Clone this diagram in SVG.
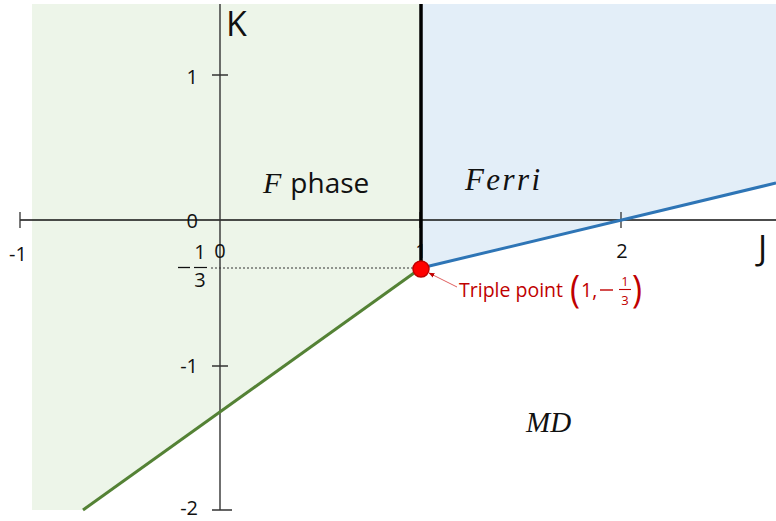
<svg xmlns="http://www.w3.org/2000/svg" width="776" height="521" viewBox="0 0 776 521">
<defs>
<style>
.tick{stroke:#333;stroke-width:1.3;fill:none}
.lbl{font-family:"Open Sans","Liberation Sans",sans-serif;font-size:20px;fill:#111}
.ax{font-family:"Open Sans","Liberation Sans",sans-serif;font-size:34px;fill:#111}
.math{font-family:"Liberation Serif","DejaVu Serif",serif;font-style:italic;fill:#111}
.red{font-family:"Open Sans","Liberation Sans",sans-serif;fill:#c00000}
</style>
<marker id="ah" viewBox="0 0 10 10" refX="9" refY="5" markerWidth="6" markerHeight="6" orient="auto">
<path d="M0,1 L10,5 L0,9 z" fill="#c00000"/>
</marker>
</defs>
<rect width="776" height="521" fill="#ffffff"/>
<g id="regions">
<polygon id="f-region" points="32,4 420,4 420,268 84,510 32,510" fill="#edf5e9"/>
<polygon id="ferri-region" points="420,4 776,4 776,183 420,268" fill="#e3eef8"/>
</g>
<g id="axes">
<line x1="20" y1="220" x2="776" y2="220" stroke="#111" stroke-width="1.4"/>
<line x1="220" y1="4" x2="220" y2="510" stroke="#333" stroke-width="1.4"/>
<path class="tick" d="M20,212 V228 M621,212 V228 M420,212 V228 M212,75 H228 M212,366 H228 M212,510 H232"/>
<text class="ax" x="226" y="36">K</text>
<text class="ax" x="758" y="260">J</text>
<text class="lbl" x="198" y="84" text-anchor="end">1</text>
<text class="lbl" x="198" y="228" text-anchor="end">0</text>
<text class="lbl" x="198" y="373" text-anchor="end">-1</text>
<text class="lbl" x="198" y="515" text-anchor="end">-2</text>
<text class="lbl" x="18" y="261" text-anchor="middle">-1</text>
<text class="lbl" x="220" y="258" text-anchor="middle">0</text>
<text class="lbl" x="421" y="258" text-anchor="middle">1</text>
<text class="lbl" x="622" y="258" text-anchor="middle">2</text>
<g id="frac-label">
<line x1="178" y1="267.5" x2="190" y2="267.5" stroke="#111" stroke-width="1.3"/>
<text class="lbl" x="200" y="259" text-anchor="middle">1</text>
<line x1="194" y1="267.5" x2="207" y2="267.5" stroke="#111" stroke-width="1.2"/>
<text class="lbl" x="200" y="287" text-anchor="middle">3</text>
</g>
</g>
<g id="connectors">
<line id="dotted" x1="211" y1="268" x2="413" y2="268" stroke="#333" stroke-width="1" stroke-dasharray="2,2"/>
<line id="f-ferri" x1="421" y1="4" x2="421" y2="268" stroke="#000" stroke-width="3.5"/>
<line id="f-md" x1="421" y1="268" x2="83" y2="510" stroke="#548235" stroke-width="3"/>
<line id="ferri-md" x1="421" y1="268" x2="776" y2="183" stroke="#2e75b6" stroke-width="3"/>
<line id="pointer" x1="457" y1="287" x2="429" y2="273" stroke="#e06060" stroke-width="1" marker-end="url(#ah)"/>
</g>
<g id="triple-point">
<circle cx="421" cy="269" r="8" fill="#ff0000" stroke="#c00000" stroke-width="1.5"/>
</g>
<g id="labels">
<text x="263" y="193" font-size="28"><tspan class="math" font-size="30">F</tspan><tspan font-family="Open Sans, Liberation Sans, sans-serif" fill="#111" dx="9">phase</tspan></text>
<text class="math" x="465" y="190" font-size="31" textLength="75" lengthAdjust="spacing">Ferri</text>
<text class="math" x="526" y="432" font-size="29">MD</text>
<g id="triple-label">
<text class="red" x="459" y="297" font-size="19.5">Triple point</text>
<text class="red" x="570" y="302" font-size="34" font-family="Liberation Serif, serif" transform="translate(570,296) scale(1,1.15) translate(-570,-296)">(</text>
<text class="red" x="581" y="297" font-size="19.5">1,</text>
<line x1="600" y1="290" x2="613" y2="290" stroke="#c00000" stroke-width="1.4"/>
<text class="red" x="625" y="286" font-size="13" text-anchor="middle">1</text>
<line x1="619" y1="289.5" x2="631" y2="289.5" stroke="#c00000" stroke-width="1.1"/>
<text class="red" x="625" y="305" font-size="13" text-anchor="middle">3</text>
<text class="red" x="632" y="302" font-size="34" font-family="Liberation Serif, serif" transform="translate(632,296) scale(1,1.15) translate(-632,-296)">)</text>
</g>
</g>
</svg>
